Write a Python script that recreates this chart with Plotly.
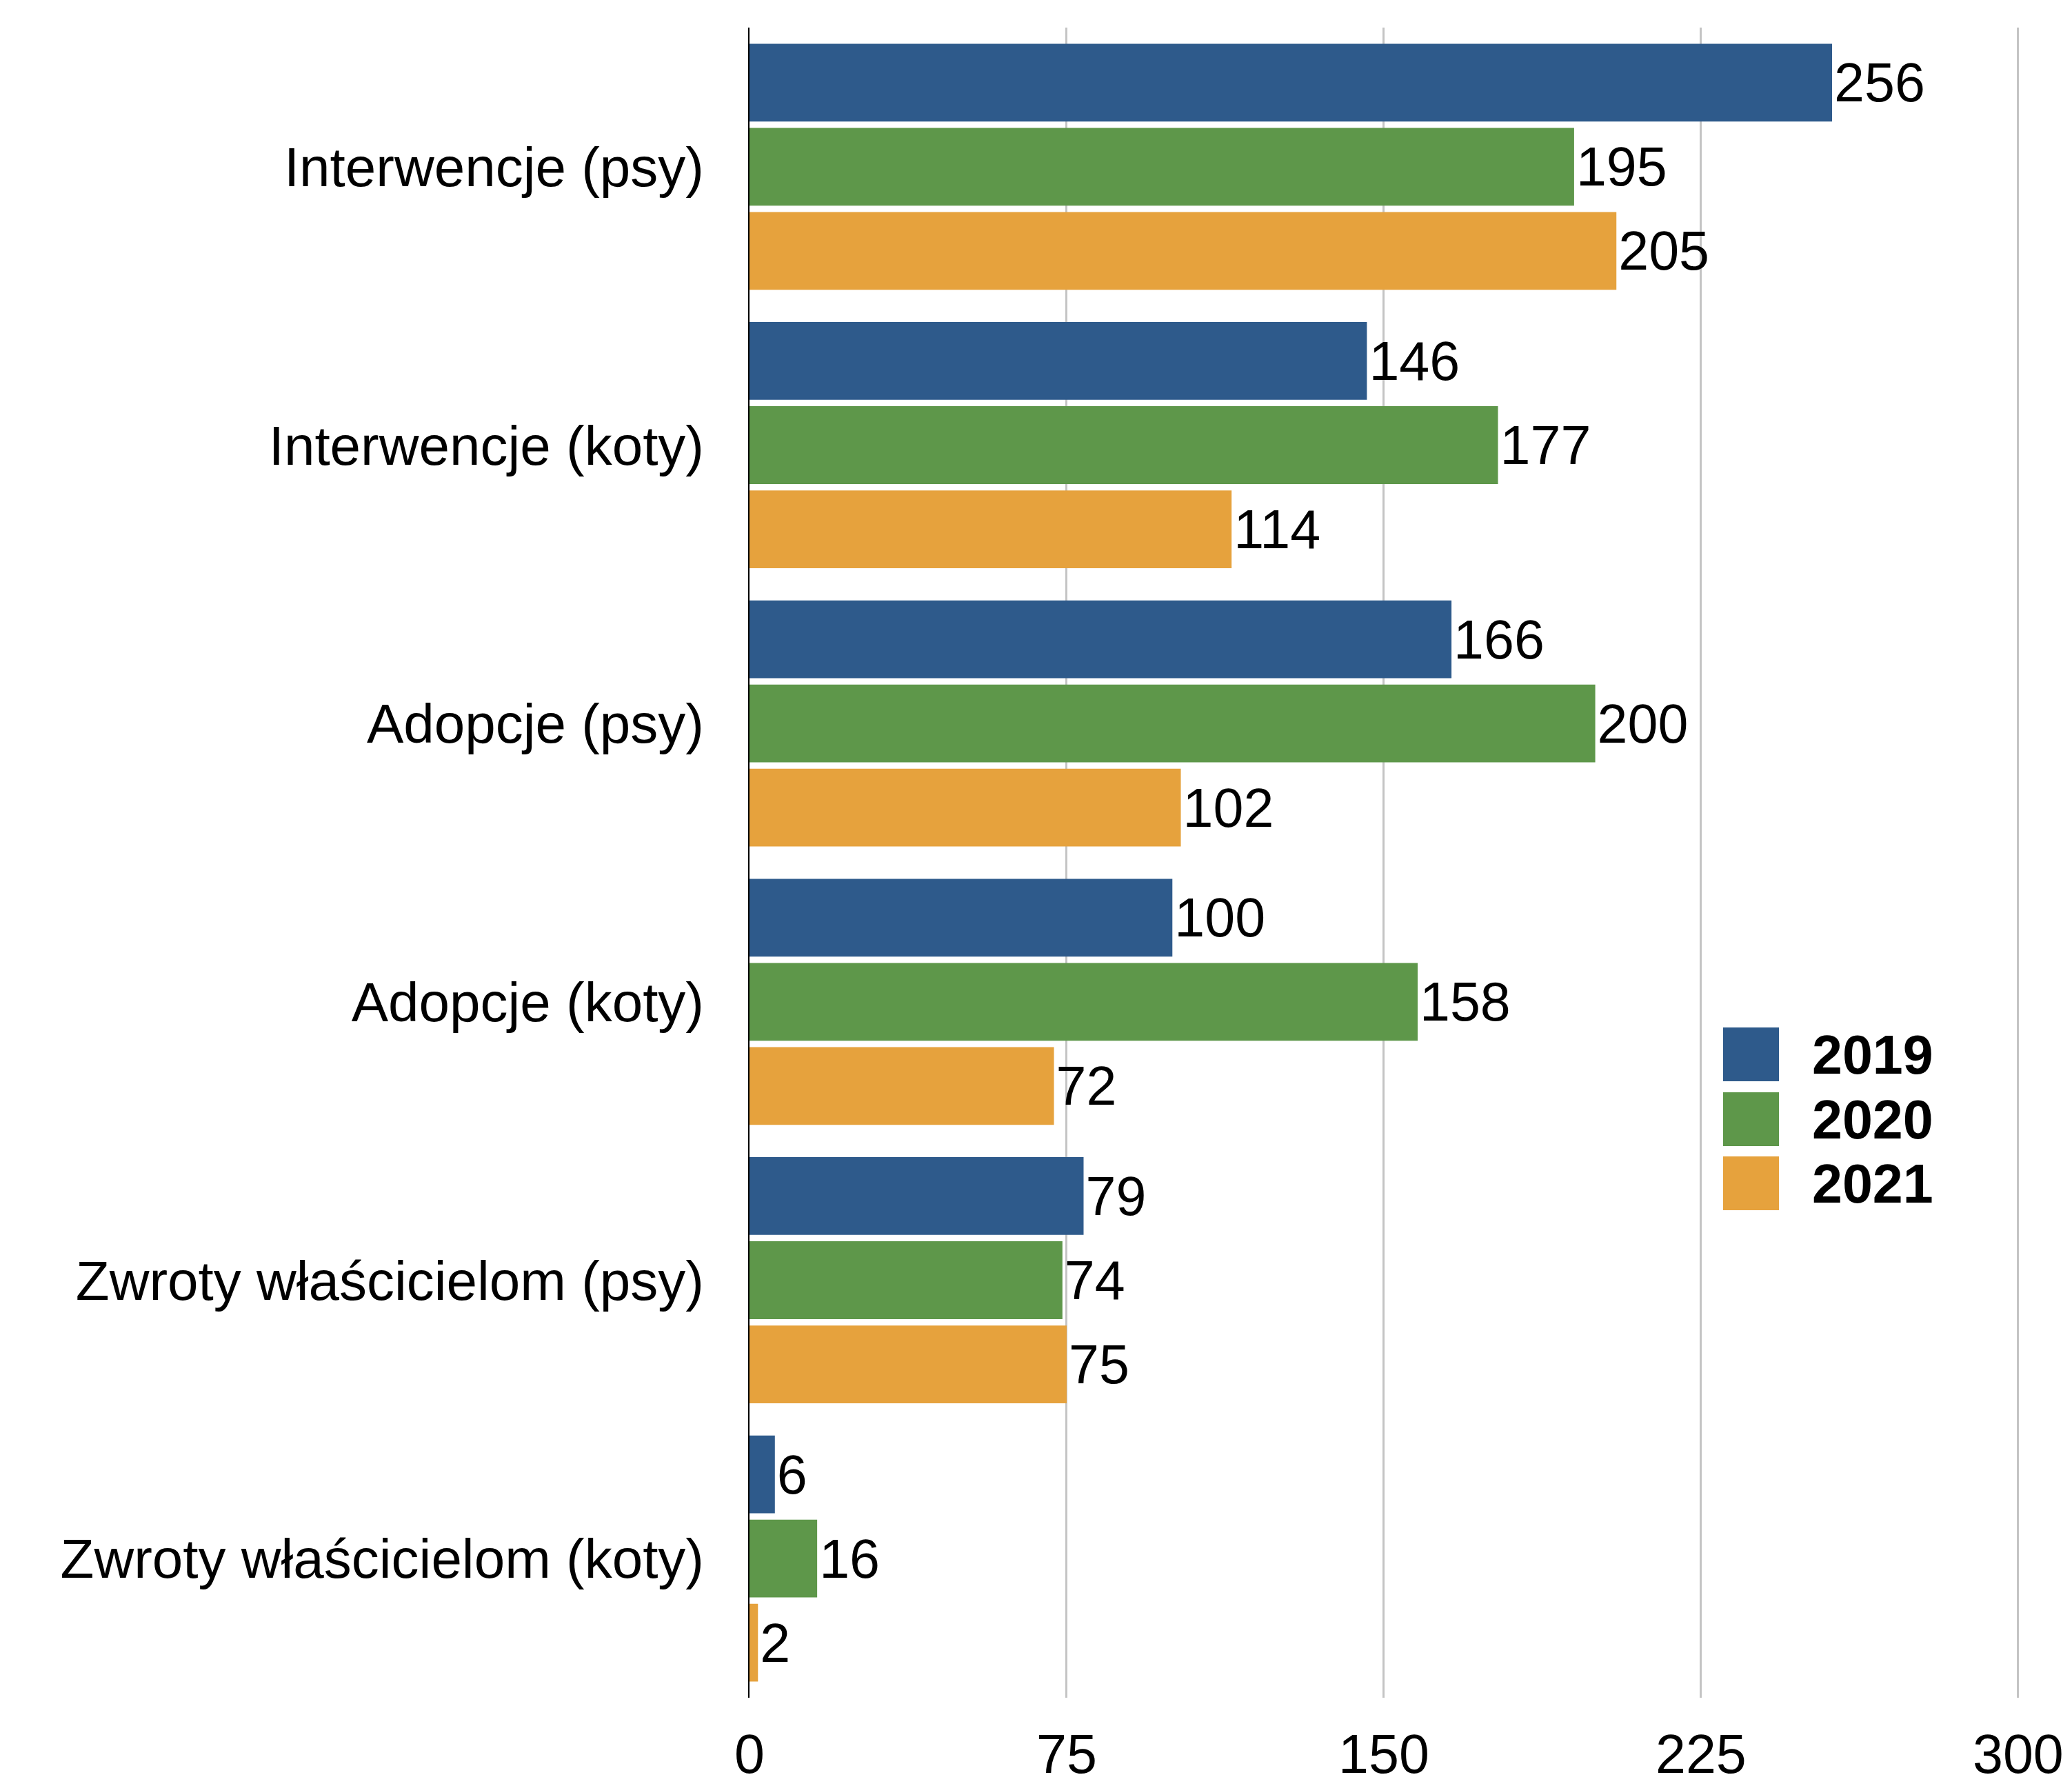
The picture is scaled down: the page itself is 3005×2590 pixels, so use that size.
import plotly.graph_objects as go

categories = [
    "Interwencje (psy)",
    "Interwencje (koty)",
    "Adopcje (psy)",
    "Adopcje (koty)",
    "Zwroty właścicielom (psy)",
    "Zwroty właścicielom (koty)",
]
series_names = ["2019", "2020", "2021"]
values_2019 = [256, 146, 166, 100, 79, 6]
values_2020 = [195, 177, 200, 158, 74, 16]
values_2021 = [205, 114, 102, 72, 75, 2]
x_ticks = [0, 75, 150, 225, 300]

colors = ["#2E5A8B", "#5E974A", "#E6A23D"]
FONT = "Liberation Sans, Arial, Helvetica, sans-serif"
FS = 79

W, H = 3005, 2590
L, R, T, B = 1087, 72, 40, 128

fig = go.Figure()
for name, vals, col in zip(series_names, [values_2019, values_2020, values_2021], colors):
    fig.add_trace(go.Bar(
        y=categories, x=vals, name=name, orientation="h",
        marker=dict(color=col, line=dict(width=0)),
        text=[str(v) for v in vals], textposition="outside",
        textfont=dict(family=FONT, size=FS, color="black"),
        constraintext="none", cliponaxis=False, showlegend=False,
    ))

# manual legend (large swatches)
pw = W - L - R
ph = H - T - B
def px2x(px):
    return (px - L) / pw
def px2y(py):
    return (H - B - py) / ph

sw_x0, sw_x1 = 2499, 2580
sw_tops = [1490, 1584, 1677]
sw_h = 78
for name, col, top in zip(series_names, colors, sw_tops):
    fig.add_shape(type="rect", xref="paper", yref="paper",
                  x0=px2x(sw_x0), x1=px2x(sw_x1),
                  y0=px2y(top + sw_h), y1=px2y(top),
                  fillcolor=col, line=dict(width=0), layer="above")
    fig.add_annotation(xref="paper", yref="paper",
                       x=px2x(2626), y=px2y(top + sw_h / 2),
                       xanchor="left", yanchor="middle", showarrow=False,
                       text="<b>" + name + "</b>",
                       font=dict(family=FONT, size=FS, color="black"))

fig.update_layout(
    width=W, height=H,
    margin=dict(l=L, r=R, t=T, b=B, pad=0, autoexpand=False),
    paper_bgcolor="white", plot_bgcolor="white",
    barmode="group", bargap=0.093, bargroupgap=0.076,
    font=dict(family=FONT, size=FS, color="black"),
    showlegend=False,
)
fig.update_xaxes(
    range=[0, 301], tickvals=x_ticks, ticktext=[str(t) for t in x_ticks],
    showgrid=True, gridcolor="#c4c4c4", gridwidth=2.5,
    zeroline=False, showline=False, ticks="", automargin=False,
    ticklabelstandoff=29,
    tickfont=dict(family=FONT, size=FS, color="black"),
)
fig.update_yaxes(
    autorange="reversed", showgrid=False, zeroline=False,
    showline=True, linecolor="black", linewidth=2, ticks="", automargin=False,
    ticklabelstandoff=48,
    tickfont=dict(family=FONT, size=80, color="black"),
)

fig.write_html("out.html", config={"displayModeBar": False},
               post_script="document.body.style.margin='0px';")
